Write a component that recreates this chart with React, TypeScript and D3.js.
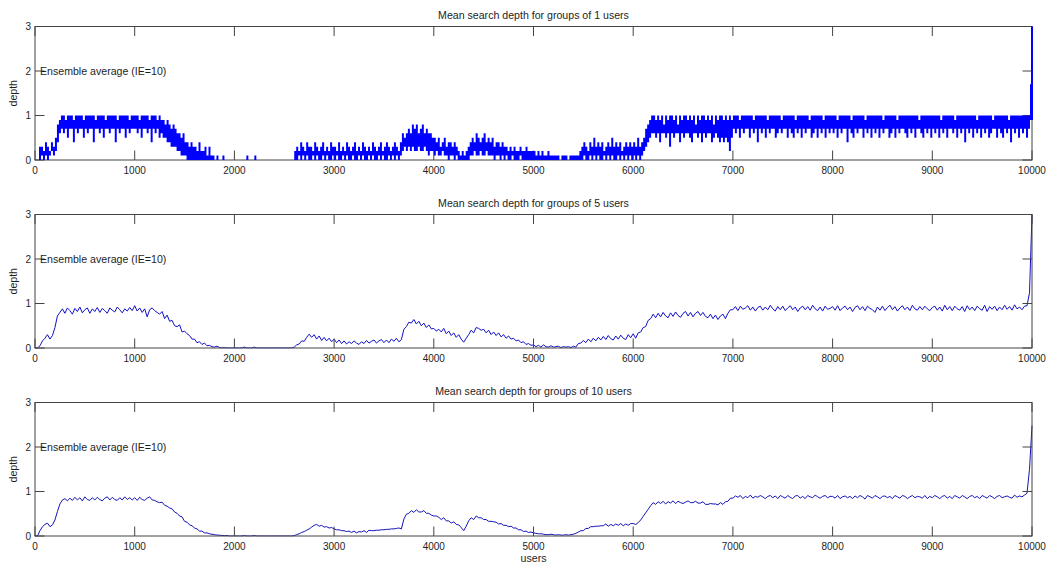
import React from "react";
import * as d3 from "d3";

// ---------- data ----------
const X_MAX = 10000;
const xTickValues = [0, 1000, 2000, 3000, 4000, 5000, 6000, 7000, 8000, 9000, 10000];
const yTickValues = [0, 1, 2, 3];
const panelTitles = [
  "Mean search depth for groups of 1 users",
  "Mean search depth for groups of 5 users",
  "Mean search depth for groups of 10 users",
];
const annotationText = "Ensemble average (IE=10)";
const xAxisLabel = "users";
const yAxisLabel = "depth";

// groups of 1 user: the trace is so dense that it is read as a min/max envelope per 20-user bin
// one row per 1000 users (50 bins), values in tenths
const g1BinStep = 20;
const g1HiTenths: number[][] = [
  [0,0,3, 3,2,4,3,2,4,3,5, 8,9, 10,10,9,10,10,10,9,10,10,10,10,9,10,10,10,10,10,9,10,10,10,10,9,10,10,10,10,10,9,10,10,10,10,10,9,10,10],
  [10,10,9,10,10,10,10,9,10,10, 10,9,10,9,9,8,9,8,7,8, 7,6,6,5,6,4,4,3,4,3, 3,2,4,2,2,3,1,3,1,1, 0,1,0,0,1,0,0,0,0,0],
  [0,0,0,0,0,0,1,0,0,0, 1,0,0,0,0,0,0,0,0,0, 0,0,0,0,0,0,0,0,0,0, 2,3,2,4,3,2,4,3,3,2,4,3,2,3,4,2,3,2,4,3],
  [3,2,4,2,3,2,4,3,2,3,4,2,3,2,4,3,2,3,2,4,3,2,3,4,2,3,4,3,2,3,4,3,2,4, 6,5,6,7,6,8,7,8,6,7,8,6,7,6,6,5],
  [5,4,5,3,4,5,3,4,4,3,4,3, 2,1,2,1,2,3, 4,5,4,6,5,4,5,6,4,5,4,5,3,4,4,3,4, 3,3,2,3,2,3,2,2,3,2,2,3,2,2,2],
  [2,1,2,1,2,1,1,2,1,1, 1,1,1,0,1,1,1,0,1,1,1,1,1, 2,3,4,3,2,4,3,5,3,4,3,4,2,3,4,3,5,3,4,3,4,2,3,4,3,4,3],
  [4,3,5,3,4, 5,7,8,9,10, 10,9,10,9,10,8,10,9,10,10,9,10,8,10,9,10,10,9,10,9,10,8,10,9,10,10,9,10,9,10,8,10,9,10,10,9,10,9,10,9],
  [10,10,10,9,10,10,10,10,10,10,9,10,10,10,10,10,10,9,10,10,10,10,10,10,9,10,10,10,10,10,10,9,10,10,10,10,10,10,9,10,10,10,10,10,10,9,10,10,10,10],
  [10,10,9,10,10,10,10,10,10,9,10,10,10,10,10,10,9,10,10,10,10,10,10,10,10,9,10,10,10,10,10,10,9,10,10,10,10,10,10,10,10,10,10,9,10,10,10,10,10,10],
  [10,10,10,10,9,10,10,10,10,10,10,9,10,10,10,10,10,10,10,10,10,10,9,10,10,10,10,10,10,10,9,10,10,10,10,10,10,10,9,10,10,10,10,10,10,10,10,10,10,17],
];
const g1LoTenths: number[][] = [
  [0,0,0, 1,0,1,0,1,2,1,2, 4,6, 7,6,7,5,7,7,4,7,6,7,7,5,7,6,7,7,4,7,7,6,7,5,7,7,6,7,7,4,7,6,7,7,5,7,6,7,7],
  [7,6,7,5,7,7,6,7,4,7, 6,7,5,6,5,5,4,4,3,3, 3,2,2,1,1,1,0,0,0,0, 0,0,0,0,0,0,0,0,0,0, 0,0,0,0,0,0,0,0,0,0],
  [0,0,0,0,0,0,0,0,0,0, 0,0,0,0,0,0,0,0,0,0, 0,0,0,0,0,0,0,0,0,0, 0,0,1,0,1,0,1,0,0,1,0,1,0,0,1,0,1,0,0,1],
  [0,1,0,0,1,0,1,0,0,1,0,0,1,0,1,0,0,1,0,1,0,0,1,0,1,0,0,1,0,1,0,1,0,1, 2,3,2,3,2,3,2,2,3,2,2,3,2,1,2,2],
  [1,2,1,1,2,1,1,0,1,1,0,1, 0,0,0,0,0,0, 1,1,2,1,1,2,1,1,2,1,1,1,0,1,1,0,1, 0,1,0,0,1,0,0,0,1,0,0,0,0,0,0],
  [0,0,0,0,0,0,0,0,0,0, 0,0,0,0,0,0,0,0,0,0,0,0,0, 0,0,1,0,0,1,0,1,0,1,0,0,1,0,1,0,1,0,0,1,0,1,0,1,0,1,0],
  [1,0,1,0,1, 2,3,4,5,6, 6,5,6,4,6,6,5,6,3,6,5,6,6,4,6,5,6,6,5,4,6,6,5,6,4,6,5,6,6,4,5,6,5,4,5,4,5,4,2,5],
  [7,6,7,5,7,6,7,7,5,7,6,7,4,7,6,7,5,7,6,7,7,5,6,7,6,7,7,5,7,6,5,7,6,7,5,7,6,7,7,5,6,7,5,7,6,7,5,7,6,7],
  [6,7,5,7,6,7,7,4,7,6,5,7,6,7,7,5,7,6,7,5,7,6,7,5,7,6,7,7,5,6,7,5,7,6,7,7,6,5,7,6,7,5,7,7,6,5,7,6,7,5],
  [7,6,7,5,7,6,7,5,7,7,6,7,5,7,6,7,4,7,6,7,5,7,6,7,5,7,6,7,5,6,7,7,5,7,6,5,7,6,7,4,7,6,7,5,7,6,7,5,7,9],
];
const g1LastHiTenths = 30;
const g1LastLoTenths = 9;

// groups of 5 users: one row per 1000 users, sampled every 25 users, values in hundredths
const g5Step = 25;
const g5Hundredths: number[][] = [
  [0,0, 5,16,22,30,20,28,46,72, 80,88,78,90,84,76,89,82,92,79,86,90,78,88,82,91,80,89,84,78,90,85,81,92,86,79,88,83,91,84],
  [95,83,90,80,88,70,86,90, 84,80,76,82,66,74,60,62, 50,48,52,36,38,32,28,20, 20,12,14,8,11,5,6,3, 2,4,1,0,1,0,0,0],
  [0,0,0,0,2,0,0,0,2,0,0,0,0,0,0,0,0,0,0,0,0,0,0,0, 2,7,9,16,15,24,31,24,30,20,27,17,24,16,22,14],
  [20,12,18,10,16,9,14,10,16,11,8,14,10,17,11,15,18,11,16,19,12,18,12,20,15,22,14,19, 42,48,58,56,64,54,60,50,56,46,52,43],
  [44,38,42,36,44,32,38,28,34,24,30,20, 13,22,30,40,34,46,44,40, 42,34,40,30,36,28,34,25,30,22,27,20,22,16,18,12,14,8,10,6],
  [7,3,6,2,7,3,2,5,2,3,4,1,3,2,3,1,4,2, 10,11,17,12,20,14,22,16,24,18,26,19,28,21,18,27,20,29,22,19,30,23],
  [32,22,34,36,46,48,62,66, 76,68,78,70,80,72,68,79,71,81,73,69,78,82,72,80,70,78,82,73,80,71,68,76,66,74,64,72,76,66,78,86],
  [86,93,84,94,87,90,95,85,92,83,91,94,85,92,86,96,88,83,93,86,94,84,90,95,86,92,82,90,94,86,93,85,96,88,84,92,83,94,87,89],
  [93,85,95,84,90,94,86,92,82,91,95,86,93,84,94,89,86,80,92,85,94,84,91,96,86,93,83,90,95,86,92,84,96,88,85,93,86,94,88,84],
  [91,94,85,92,83,96,86,93,84,94,88,85,93,82,95,86,92,84,94,88,85,96,82,93,87,94,84,92,86,96,87,93,85,97,88,92,86,94,95,124],
];
const g5LastHundredths = 300;

// groups of 10 users: one row per 1000 users, sampled every 25 users, values in hundredths
const g10Step = 25;
const g10Hundredths: number[][] = [
  [0,0,12,21,26,29,21,25,36,55,72,81,84, 79,85,80,87,81,86,79,88,82,80,86,81,87,82,79,85,88,81,87,82,80,86,81,88,82,86,81],
  [86,80,87,82,80,85,88,81,80,77, 75,76,69,67,63,61,54,51,45,43, 33,31,25,23,18,16,11,11,7,7, 5,4,3,2,2,1,1,1,0,0],
  [0,0,0,0,1,0,0,0,1,0,0,0,0,0,0,0,0,0,0,0,0,0,0,0, 1,3,5,8,10,13,16,20,24,26,22,24,20,21,18,19],
  [16,14,14,12,12,10,11,8,11,7,10,9,12,8,13,12,12,13,13,14,14,15,15,16,16,17,18,16, 38,49,51,57,53,59,54,54,57,51,51,47],
  [45,45,42,37,41,34,34,29,32,26,25,19, 12,22,34,41,37,45,41,41, 37,37,33,33,32,31,27,28,24,24,21,22,18,18,14,14,10,11,8,9],
  [7,6,5,5,4,3,3,4,3,2,3,2,2,3,2,3,4,6, 9,12,12,17,17,21,21,22,22,23,23,27,22,26,23,27,24,28,23,27,24,28],
  [28,26,30,36,44,52,60,68, 75,71,77,73,78,72,77,74,79,73,78,75,73,76,79,75,75,78,74,74,77,71,71,73,72,72,70,75,71,77,78,85],
  [85,90,87,91,84,89,86,92,85,89,87,91,88,84,89,91,86,90,84,91,88,85,91,87,84,90,91,85,89,84,91,88,86,92,88,85,89,91,86,89],
  [89,85,91,84,88,90,86,89,84,90,86,91,88,83,91,88,85,91,88,84,89,90,86,89,84,91,88,85,91,89,84,88,91,86,89,88,85,91,84,89],
  [86,91,88,84,89,91,85,89,84,91,88,85,91,88,84,89,91,86,89,84,91,88,85,91,88,84,89,91,86,88,90,87,85,92,87,90,88,92,96,150],
];
const g10LastHundredths = 248;

// ---------- layout ----------
const W = 1049;
const H = 564;
const LEFT = 35;
const RIGHT = 1032;
const PANEL_TOPS = [26.5, 214.5, 402.5];
const PANEL_H = 133.5;
const FONT = "'Liberation Sans', Arial, Helvetica, sans-serif";
const TEXT_COLOR = "#1e1e1e";
const AXIS_COLOR = "#444";
const TICK_LEN = 9.5;

type Pt = [number, number];
type Bin = { x: number; lo: number; hi: number };

function expand(blocks: number[][], step: number, last: number, unit: number): Pt[] {
  const pts: Pt[] = [];
  blocks.forEach((blk, b) => blk.forEach((v, i) => pts.push([b * 1000 + i * step, v / unit])));
  pts.push([X_MAX, last / unit]);
  return pts;
}

function expandBins(hi: number[][], lo: number[][], step: number, lastHi: number, lastLo: number): Bin[] {
  const bins: Bin[] = [];
  hi.forEach((blk, b) =>
    blk.forEach((v, i) => bins.push({ x: b * 1000 + i * step + step / 2, hi: v / 10, lo: lo[b][i] / 10 }))
  );
  bins.push({ x: X_MAX, hi: lastHi / 10, lo: lastLo / 10 });
  return bins;
}

const g1Bins = expandBins(g1HiTenths, g1LoTenths, g1BinStep, g1LastHiTenths, g1LastLoTenths);

const lineSeries: { pts: Pt[]; color: string }[] = [
  { pts: [], color: "#0000ff" },
  { pts: expand(g5Hundredths, g5Step, g5LastHundredths, 100), color: "#1010c8" },
  { pts: expand(g10Hundredths, g10Step, g10LastHundredths, 100), color: "#1414b8" },
];

function Panel({ idx }: { idx: number }) {
  const top = PANEL_TOPS[idx];
  const bottom = top + PANEL_H;
  const x = d3.scaleLinear().domain([0, X_MAX]).range([LEFT, RIGHT]);
  const y = d3.scaleLinear().domain([0, 3]).range([bottom, top]);
  const clipId = `clip-${idx}`;

  let underFrame: React.ReactNode = null;
  let overFrame: React.ReactNode = null;
  if (idx === 0) {
    const colW = x(g1BinStep) - x(0);
    const d = g1Bins
      .filter((b) => b.hi > b.lo)
      .map((b) => `M${x(b.x)},${y(b.lo)}V${y(b.hi)}`)
      .join("");
    overFrame = <path d={d} fill="none" stroke="#0000ff" strokeWidth={colW} strokeLinecap="butt" />;
  } else {
    const s = lineSeries[idx];
    const line = d3.line<Pt>().x((p) => x(p[0])).y((p) => y(p[1]));
    underFrame = <path d={line(s.pts) || ""} fill="none" stroke={s.color} strokeWidth={1} />;
  }

  return (
    <g>
      <defs>
        <clipPath id={clipId}>
          <rect x={LEFT} y={top - 0.5} width={RIGHT - LEFT + 1} height={PANEL_H + 1} />
        </clipPath>
      </defs>
      <text x={(LEFT + RIGHT) / 2} y={top - 8} textAnchor="middle" fontSize={10.6} fill={TEXT_COLOR}>
        {panelTitles[idx]}
      </text>
      <g clipPath={`url(#${clipId})`}>{underFrame}</g>
      <rect x={LEFT} y={top} width={RIGHT - LEFT} height={PANEL_H} fill="none" stroke={AXIS_COLOR} strokeWidth={1} />
      {xTickValues.map((t) => (
        <g key={`xt${t}`}>
          <line x1={x(t)} x2={x(t)} y1={bottom} y2={bottom - TICK_LEN} stroke={AXIS_COLOR} />
          <line x1={x(t)} x2={x(t)} y1={top} y2={top + TICK_LEN} stroke={AXIS_COLOR} />
          <text x={x(t)} y={bottom + 14} textAnchor="middle" fontSize={10} fill={TEXT_COLOR}>
            {t}
          </text>
        </g>
      ))}
      {yTickValues.map((t) => (
        <g key={`yt${t}`}>
          <line x1={LEFT} x2={LEFT + TICK_LEN} y1={y(t)} y2={y(t)} stroke={AXIS_COLOR} />
          <line x1={RIGHT} x2={RIGHT - TICK_LEN} y1={y(t)} y2={y(t)} stroke={AXIS_COLOR} />
          <text x={LEFT - 4} y={y(t) + 3.6} textAnchor="end" fontSize={10} fill={TEXT_COLOR}>
            {t}
          </text>
        </g>
      ))}
      <g clipPath={`url(#${clipId})`}>{overFrame}</g>
      <text x={LEFT + 5} y={y(2) + 3.8} fontSize={10.6} fill={TEXT_COLOR}>
        {annotationText}
      </text>
      <text
        transform={`translate(${LEFT - 18}, ${(top + bottom) / 2}) rotate(-90)`}
        textAnchor="middle"
        fontSize={10.6}
        fill={TEXT_COLOR}
      >
        {yAxisLabel}
      </text>
      {idx === 2 && (
        <text x={(LEFT + RIGHT) / 2} y={bottom + 26} textAnchor="middle" fontSize={10.6} fill={TEXT_COLOR}>
          {xAxisLabel}
        </text>
      )}
    </g>
  );
}

export default function App() {
  return (
    <svg
      width={W}
      height={H}
      viewBox={`0 0 ${W} ${H}`}
      style={{ position: "absolute", left: 0, top: 0, background: "#fff" }}
      fontFamily={FONT}
    >
      <rect x={0} y={0} width={W} height={H} fill="#fff" />
      {[0, 1, 2].map((i) => (
        <Panel key={i} idx={i} />
      ))}
    </svg>
  );
}
